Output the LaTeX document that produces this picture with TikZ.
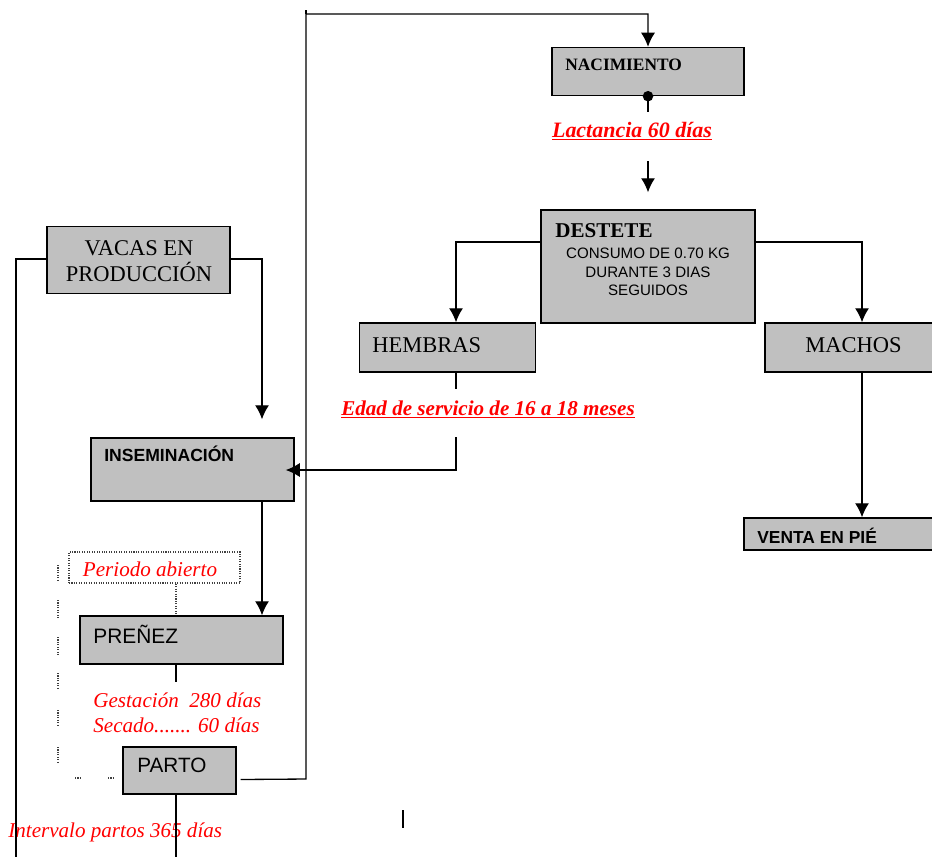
\documentclass[tikz,border=0pt]{standalone}
\usepackage{fontspec}
\setmainfont{Liberation Serif}
\setsansfont{Liberation Sans}
\usetikzlibrary{arrows.meta}
\definecolor{cajagris}{RGB}{192,192,192}
\tikzset{
	caja/.style 2 args={draw=black, line width=0.8pt, fill=cajagris, minimum width=#1*0.02cm, minimum height=#2*0.02cm, inner sep=0pt},
	texto/.style={anchor=base west, inner sep=0pt},
	rojo/.style={text=red, inner sep=0pt},
	linea/.style={line width=0.75pt},
	flecha/.style={line width=0.75pt, ->, >={Latex[length=8pt,width=8pt]}},
	punteado/.style={line width=0.8pt, dash pattern=on 0.6pt off 0.8pt, black!75},
}
\begin{document}
\begin{tikzpicture}[x=0.02cm, y=-0.02cm]
	\useasboundingbox (0,0) rectangle (932,856);
	
	%Cajas
	\node[caja={192}{48}] (nac) at (648,71.5) {};
	\node[caja={214}{113}] (dest) at (648,266.5) {};
	\node[caja={176}{49}] (hem) at (447.5,347.5) {};
	\node[caja={176}{49}] (mach) at (853,347.5) {};
	\node[caja={197}{32}] (venta) at (842.5,534) {};
	\node[caja={183}{67}] (vacas) at (138.5,260) {};
	\node[caja={203}{63}] (insem) at (192.5,469.5) {};
	\node[caja={203}{48}] (pren) at (181.5,640) {};
	\node[caja={113}{47}] (parto) at (179.5,770.5) {};
	\node[draw, punteado, minimum width=171*0.02cm, minimum height=31*0.02cm, inner sep=0pt] (abierto) at (154.5,567.5) {};
	
	%Columnas
	\coordinate (xH) at (456,0);
	\coordinate (xM) at (862,0);
	\coordinate (xI) at (262,0);
	\coordinate (xP) at (176,0);
	\coordinate (yD) at (0,242);
	\coordinate (yV) at (0,259);
	
	%Textos de las cajas
	\node[texto, font=\bfseries\fontsize{9.9}{12}\selectfont] (tnac) at (565,70.5) {NACIMIENTO};
	\node[texto, font=\bfseries\fontsize{12}{14}\selectfont] (tdest) at (555,237) {DESTETE};
	\node[inner sep=0pt, align=center, font=\sffamily\fontsize{8.6}{10.5}\selectfont] (tcons) at (648,272) {CONSUMO DE 0.70 KG\\DURANTE 3 DIAS\\SEGUIDOS};
	\node[texto, font=\fontsize{12.8}{15}\selectfont] (themb) at (372,352) {HEMBRAS};
	\node[texto, font=\fontsize{12.8}{15}\selectfont] (tmach) at (805,352) {MACHOS};
	\node[texto, font=\sffamily\bfseries\fontsize{9.9}{12}\selectfont] (tventa) at (757,543) {VENTA EN PIÉ};
	\node[inner sep=0pt, align=center, font=\fontsize{12.8}{14.7}\selectfont] (tvacas) at (139,261) {VACAS EN\\PRODUCCIÓN};
	\node[texto, font=\sffamily\bfseries\fontsize{10}{12}\selectfont] (tinsem) at (104,461.5) {INSEMINACIÓN};
	\node[texto, font=\sffamily\fontsize{11.9}{14}\selectfont] (tpren) at (93,643) {PREÑEZ};
	\node[texto, font=\sffamily\fontsize{11.8}{14}\selectfont] (tparto) at (137,772) {PARTO};
	
	%Textos rojos
	\node[rojo, anchor=base, font=\bfseries\itshape\fontsize{12.5}{15}\selectfont] (tlact) at (632,137) {\underline{Lactancia 60 días}};
	\node[rojo, anchor=base, font=\bfseries\itshape\fontsize{12}{15}\selectfont] (tedad) at (488,415) {\underline{Edad de servicio de 16 a 18 meses}};
	\begin{scope}
		\clip (60,540) rectangle (250,578);
		\node[rojo, anchor=base, font=\itshape\fontsize{12}{15}\selectfont] (tabierto) at (150,576) {Periodo abierto};
	\end{scope}
	\node[rojo, texto, font=\itshape\fontsize{12}{15}\selectfont] (tgest) at (93,707) {Gestación\ \ 280 días};
	\node[rojo, texto, font=\itshape\fontsize{12}{15}\selectfont] (tsec) at (93,732) {Secado....... 60 días};
	\node[rojo, texto, font=\itshape\fontsize{12}{15}\selectfont] (tint) at (8,837) {Intervalo partos 365 días};
	
	%Conectores
	\draw[flecha] ([shift={(4,9)}]parto.east) -- (306,779) -- (306,14) -- (648,14) -- (nac.north);%retorno al nacimiento
	\draw[linea] (306,14) -- (306,10);
	\fill (nac.south) circle (3pt);
	\draw[linea] (nac.south) -- ++(0,16);
	\coordinate (lact) at (648,161);
	\draw[flecha, shorten >=0.34cm] (lact) -- (dest.north);
	\draw[flecha] (dest.west |- yD) -- (xH |- yD) -- (hem.north -| xH);
	\draw[flecha] (dest.east |- yD) -- (xM |- yD) -- (mach.north -| xM);
	\draw[flecha] (mach.south -| xM) -- (venta.north -| xM);
	\draw[linea] (hem.south -| xH) -- ++(0,16);
	\coordinate (edad) at (456,437);
	\draw[flecha, shorten >=-0.18cm] (edad) -- (456,470) -- (insem.east |- 0,470);%a inseminacion
	\draw[flecha, shorten >=0.36cm] (vacas.east |- yV) -- (xI |- yV) -- (insem.north -| xI);
	\draw[linea] (vacas.west |- yV) -- (16,259) -- (16,870);
	\draw[flecha] (insem.south -| xI) -- (pren.north -| xI);
	\draw[linea] (pren.south -| xP) -- ++(0,17);
	\draw[linea] (parto.south -| xP) -- (176,870);
	\draw[punteado] (abierto.south -| xP) -- (pren.north -| xP);
	
	%Lineas punteadas sueltas
	\draw[punteado] (58,565) -- (58,582) (58,600) -- (58,618) (58,637) -- (58,655) (58,673) -- (58,690) (58,710) -- (58,727) (58,747) -- (58,763);
	\draw[punteado] (75,778) -- (80,778) (108,778) -- (113,778);
	\draw[linea] (403,810) -- (403,828);
\end{tikzpicture}
\end{document}
